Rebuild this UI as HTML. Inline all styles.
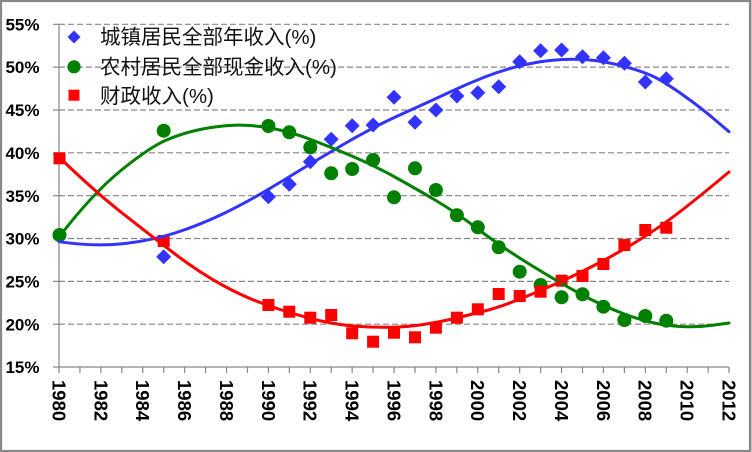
<!DOCTYPE html>
<html><head><meta charset="utf-8"><style>
html,body{margin:0;padding:0;background:#fff;}
svg{display:block;}
</style></head><body>
<svg width="752" height="452" viewBox="0 0 752 452" xmlns="http://www.w3.org/2000/svg">
<rect x="0" y="0" width="752" height="452" fill="#fff"/>
<rect x="1" y="1" width="749" height="450" fill="none" stroke="#888" stroke-width="2.2"/>
<line x1="750.5" y1="0" x2="750.5" y2="452" stroke="#888" stroke-width="2"/>
<!-- gridlines -->
<g stroke="#868686" stroke-width="1.2" stroke-dasharray="6,3" fill="none">
<line x1="59" y1="24.3" x2="729" y2="24.3"/>
<line x1="59" y1="67.1" x2="729" y2="67.1"/>
<line x1="59" y1="110" x2="729" y2="110"/>
<line x1="59" y1="152.8" x2="729" y2="152.8"/>
<line x1="59" y1="195.7" x2="729" y2="195.7"/>
<line x1="59" y1="238.5" x2="729" y2="238.5"/>
<line x1="59" y1="281.4" x2="729" y2="281.4"/>
<line x1="59" y1="324.2" x2="729" y2="324.2"/>
</g>
<!-- axes -->
<g stroke="#868686" stroke-width="1.2" fill="none">
<line x1="59" y1="24.3" x2="59" y2="367"/>
<line x1="53" y1="367" x2="729" y2="367"/>
<line x1="53" y1="24.3" x2="59" y2="24.3"/>
<line x1="53" y1="67.1" x2="59" y2="67.1"/>
<line x1="53" y1="110" x2="59" y2="110"/>
<line x1="53" y1="152.8" x2="59" y2="152.8"/>
<line x1="53" y1="195.7" x2="59" y2="195.7"/>
<line x1="53" y1="238.5" x2="59" y2="238.5"/>
<line x1="53" y1="281.4" x2="59" y2="281.4"/>
<line x1="53" y1="324.2" x2="59" y2="324.2"/>
<path d="M59,367V373M79.94,367V373M100.88,367V373M121.82,367V373M142.76,367V373M163.7,367V373M184.64,367V373M205.58,367V373M226.52,367V373M247.46,367V373M268.4,367V373M289.34,367V373M310.28,367V373M331.22,367V373M352.16,367V373M373.1,367V373M394.04,367V373M414.98,367V373M435.92,367V373M456.86,367V373M477.8,367V373M498.74,367V373M519.68,367V373M540.62,367V373M561.56,367V373M582.5,367V373M603.44,367V373M624.38,367V373M645.32,367V373M666.26,367V373M687.2,367V373M708.14,367V373M729,367V373"/>
</g>
<!-- y labels -->
<g font-family="Liberation Sans, sans-serif" font-weight="bold" font-size="17" fill="#000" text-anchor="end">
<text x="39.5" y="30.4">55%</text>
<text x="39.5" y="73.2">50%</text>
<text x="39.5" y="116.1">45%</text>
<text x="39.5" y="158.9">40%</text>
<text x="39.5" y="201.8">35%</text>
<text x="39.5" y="244.6">30%</text>
<text x="39.5" y="287.5">25%</text>
<text x="39.5" y="330.3">20%</text>
<text x="39.5" y="373.1">15%</text>
</g>
<!-- x labels -->
<g font-family="Liberation Sans, sans-serif" font-weight="bold" font-size="18.5" fill="#000">
<text transform="translate(52.4,380) rotate(90)">1980</text>
<text transform="translate(94.3,380) rotate(90)">1982</text>
<text transform="translate(136.2,380) rotate(90)">1984</text>
<text transform="translate(178.0,380) rotate(90)">1986</text>
<text transform="translate(219.9,380) rotate(90)">1988</text>
<text transform="translate(261.8,380) rotate(90)">1990</text>
<text transform="translate(303.7,380) rotate(90)">1992</text>
<text transform="translate(345.6,380) rotate(90)">1994</text>
<text transform="translate(387.4,380) rotate(90)">1996</text>
<text transform="translate(429.3,380) rotate(90)">1998</text>
<text transform="translate(471.2,380) rotate(90)">2000</text>
<text transform="translate(513.1,380) rotate(90)">2002</text>
<text transform="translate(555.0,380) rotate(90)">2004</text>
<text transform="translate(596.8,380) rotate(90)">2006</text>
<text transform="translate(638.7,380) rotate(90)">2008</text>
<text transform="translate(680.6,380) rotate(90)">2010</text>
<text transform="translate(722.4,380) rotate(90)">2012</text>
</g>
<!-- blue diamonds -->
<g fill="#3333FF">
<path d="M163.7,249.2l7.5,7.5l-7.5,7.5l-7.5,-7.5z"/>
<path d="M268.4,189.2l7.5,7.5l-7.5,7.5l-7.5,-7.5z"/>
<path d="M289.3,176.8l7.5,7.5l-7.5,7.5l-7.5,-7.5z"/>
<path d="M310.3,154.2l7.5,7.5l-7.5,7.5l-7.5,-7.5z"/>
<path d="M331.2,131.8l7.5,7.5l-7.5,7.5l-7.5,-7.5z"/>
<path d="M352.2,118.2l7.5,7.5l-7.5,7.5l-7.5,-7.5z"/>
<path d="M373.1,117.5l7.5,7.5l-7.5,7.5l-7.5,-7.5z"/>
<path d="M394,89.8l7.5,7.5l-7.5,7.5l-7.5,-7.5z"/>
<path d="M415,114.8l7.5,7.5l-7.5,7.5l-7.5,-7.5z"/>
<path d="M435.9,102.5l7.5,7.5l-7.5,7.5l-7.5,-7.5z"/>
<path d="M456.9,88.5l7.5,7.5l-7.5,7.5l-7.5,-7.5z"/>
<path d="M477.8,85.2l7.5,7.5l-7.5,7.5l-7.5,-7.5z"/>
<path d="M498.7,79.2l7.5,7.5l-7.5,7.5l-7.5,-7.5z"/>
<path d="M519.7,54.2l7.5,7.5l-7.5,7.5l-7.5,-7.5z"/>
<path d="M540.6,43.2l7.5,7.5l-7.5,7.5l-7.5,-7.5z"/>
<path d="M561.6,42.5l7.5,7.5l-7.5,7.5l-7.5,-7.5z"/>
<path d="M582.5,49.2l7.5,7.5l-7.5,7.5l-7.5,-7.5z"/>
<path d="M603.4,50.2l7.5,7.5l-7.5,7.5l-7.5,-7.5z"/>
<path d="M624.4,55.8l7.5,7.5l-7.5,7.5l-7.5,-7.5z"/>
<path d="M645.3,74.5l7.5,7.5l-7.5,7.5l-7.5,-7.5z"/>
<path d="M666.3,71.2l7.5,7.5l-7.5,7.5l-7.5,-7.5z"/>
</g>
<!-- green circles -->
<g fill="#008000">
<circle cx="59.5" cy="235" r="7"/>
<circle cx="163.7" cy="130.7" r="7"/>
<circle cx="268.4" cy="126" r="7"/>
<circle cx="289.3" cy="132.3" r="7"/>
<circle cx="310.3" cy="147.3" r="7"/>
<circle cx="331.2" cy="173.3" r="7"/>
<circle cx="352.2" cy="169" r="7"/>
<circle cx="373.1" cy="160" r="7"/>
<circle cx="394" cy="197.3" r="7"/>
<circle cx="415" cy="168.3" r="7"/>
<circle cx="435.9" cy="190" r="7"/>
<circle cx="456.9" cy="215.3" r="7"/>
<circle cx="477.8" cy="227.3" r="7"/>
<circle cx="498.7" cy="247.3" r="7"/>
<circle cx="519.7" cy="271.7" r="7"/>
<circle cx="540.6" cy="285" r="7"/>
<circle cx="561.6" cy="297.3" r="7"/>
<circle cx="582.5" cy="294.3" r="7"/>
<circle cx="603.4" cy="306.7" r="7"/>
<circle cx="624.4" cy="320" r="7"/>
<circle cx="645.3" cy="316" r="7"/>
<circle cx="666.3" cy="320.7" r="7"/>
</g>
<!-- red squares -->
<g fill="#FF0000">
<rect x="53.5" y="152.3" width="12" height="12"/>
<rect x="157.7" y="235" width="12" height="12"/>
<rect x="262.4" y="299" width="12" height="12"/>
<rect x="283.3" y="305.7" width="12" height="12"/>
<rect x="304.3" y="311.7" width="12" height="12"/>
<rect x="325.2" y="309" width="12" height="12"/>
<rect x="346.2" y="327.3" width="12" height="12"/>
<rect x="367.1" y="335.7" width="12" height="12"/>
<rect x="388" y="326.7" width="12" height="12"/>
<rect x="409" y="331.3" width="12" height="12"/>
<rect x="429.9" y="321.7" width="12" height="12"/>
<rect x="450.9" y="311.7" width="12" height="12"/>
<rect x="471.8" y="303.3" width="12" height="12"/>
<rect x="492.7" y="288" width="12" height="12"/>
<rect x="513.7" y="290" width="12" height="12"/>
<rect x="534.6" y="285.7" width="12" height="12"/>
<rect x="555.6" y="274.7" width="12" height="12"/>
<rect x="576.5" y="270" width="12" height="12"/>
<rect x="597.4" y="258" width="12" height="12"/>
<rect x="618.4" y="239" width="12" height="12"/>
<rect x="639.3" y="224" width="12" height="12"/>
<rect x="660.3" y="221.7" width="12" height="12"/>
</g>
<!-- trendlines -->
<g fill="none" stroke-width="3" stroke-linecap="round" stroke-linejoin="round">
<path stroke="#3333FF" d="M59,241.7 Q93,246.7 121.5,243.85 Q150,241 175,233 Q200,225 225,212.85 Q250,200.7 280,182.35 Q310,164 341.5,145.5 Q373,127 403,113.5 Q433,100 450,92 Q467,84 483.5,77.5 Q500,71 517.5,66.5 Q535,62 552.5,60.25 Q570,58.5 587,59.75 Q604,61 624.5,66.5 Q645,72 655.5,77.5 Q666,83 683,95 Q700,107 714.5,119.35 L729,131.7"/>
<path stroke="#008000" d="M59,237 Q93,193 121.5,170 Q150,147 166.5,140 Q183,133 200,129.5 Q217,126 233.5,125.25 Q250,124.5 270,128 Q290,131.5 311.5,139.75 Q333,148 353,156.5 Q373,165 393,176 Q413,187 435,200 Q457,213 478.5,229.5 Q500,246 530,264.5 Q560,283 581.5,294.5 Q603,306 623,313.5 Q643,321 658,323.75 Q673,326.5 686.5,326.75 Q700,327 714.5,325 L729,323"/>
<path stroke="#FF0000" d="M59,157 Q93,190 121.5,212.5 Q150,235 175,254 Q200,273 225,286.5 Q250,300 278.5,309 Q307,318 323.5,321.5 Q340,325 356.5,326.25 Q373,327.5 390,327.25 Q407,327 423.5,324.5 Q440,322 456.5,318 Q473,314 486.5,310.5 Q500,307 520,299 Q540,291 560,282 Q580,273 603.5,260.5 Q627,248 647,235 Q667,222 683.5,209 Q700,196 714.5,184 L729,172"/>
</g>
<!-- legend -->
<path d="M74,30.5l6.5,6.5l-6.5,6.5l-6.5,-6.5z" fill="#3333FF"/>
<circle cx="74" cy="66.8" r="6.6" fill="#008000"/>
<rect x="68.5" y="89.7" width="11" height="11" fill="#FF0000"/>
<g font-family="Liberation Sans, Noto Sans CJK SC, sans-serif" font-size="20.5" fill="#111">
<text x="100" y="44.2">城镇居民全部年收入(%)</text>
<text x="100" y="74">农村居民全部现金收入(%)</text>
<text x="100" y="102.8">财政收入(%)</text>
</g>
</svg>
</body></html>
